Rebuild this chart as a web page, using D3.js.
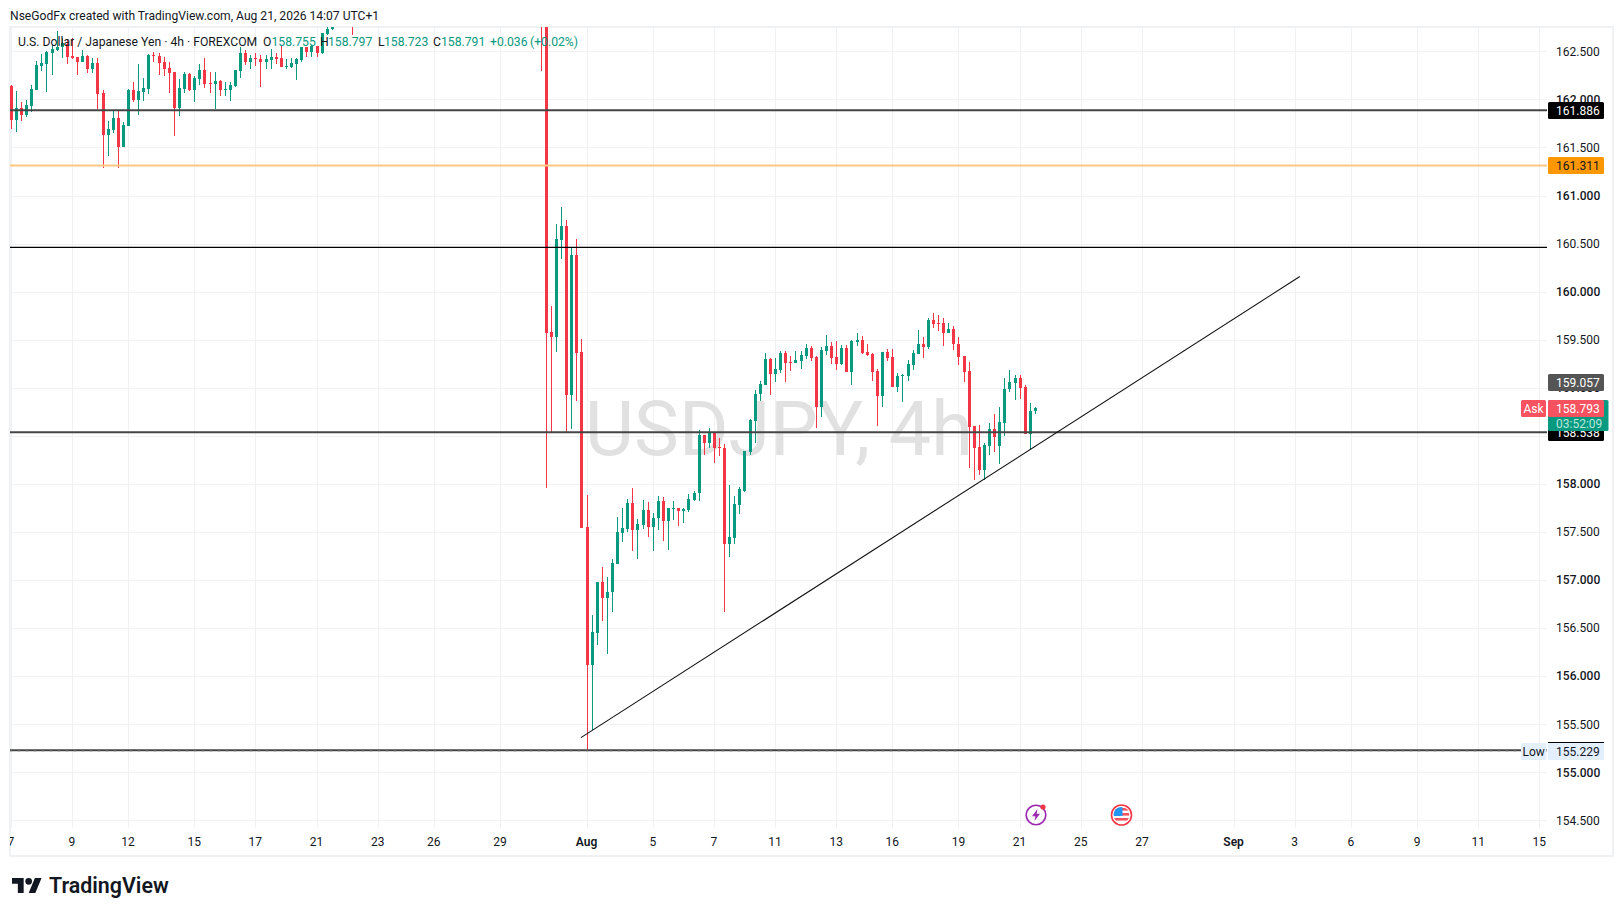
<!DOCTYPE html>
<html><head><meta charset="utf-8">
<script src="https://cdn.jsdelivr.net/npm/d3@7"></script>
<style>html,body{margin:0;padding:0;background:#fff;overflow:hidden}svg{display:block}text{font-family:Roboto,sans-serif}</style>
</head><body><svg id="c" width="1623" height="916"></svg>
<script>
// Visible candle slots (slot number on the time axis); others sit above the visible price range
const slots = [...d3.range(0,64),67,...d3.range(104,202)];
const opens = [162.14,161.79,161.91,161.84,161.93,162.10,162.35,162.37,162.48,162.51,
162.54,162.58,162.45,162.44,162.39,162.45,162.32,162.38,162.07,161.63,
161.68,161.81,161.50,161.72,162.10,161.99,162.08,162.11,162.46,162.45,
162.39,162.33,162.29,161.91,162.11,162.26,162.10,162.21,162.31,162.17,
162.16,162.19,162.10,162.10,162.14,162.30,162.48,162.39,162.43,162.42,
162.39,162.41,162.44,162.43,162.34,162.34,162.37,162.41,162.54,162.49,
162.56,162.48,162.68,162.73,
162.95,
163.90,163.60,
159.58,159.53,160.54,160.68,158.92,160.38,159.37,157.55,156.12,156.45,
156.98,156.81,156.87,157.17,157.49,157.53,157.80,157.52,157.57,157.73,
157.55,157.64,157.82,157.61,157.74,157.75,157.72,157.73,157.83,157.90,
158.51,158.42,158.54,158.38,158.37,157.37,157.44,157.78,157.93,158.33,
158.65,158.93,159.03,159.30,159.14,159.18,159.36,159.27,159.26,159.28,
159.33,159.41,159.32,158.80,159.38,159.43,159.32,159.25,159.41,159.16,
159.48,159.50,159.37,159.35,159.17,158.91,159.37,159.32,159.01,159.12,
159.12,159.24,159.35,159.46,159.42,159.70,159.67,159.67,159.57,159.61,
159.46,159.33,159.17,158.60,158.38,158.14,158.39,158.57,158.39,158.63,
158.99,159.05,159.10,159.01,158.52,158.755];
const highs = [162.15,162.09,161.97,161.99,162.15,162.40,162.47,162.50,162.57,162.71,
162.64,162.63,162.64,162.44,162.51,162.46,162.43,162.43,162.10,161.78,
161.89,161.88,161.76,162.11,162.18,162.37,162.22,162.47,162.49,162.48,
162.44,162.39,162.29,162.21,162.29,162.27,162.24,162.37,162.43,162.29,
162.29,162.20,162.18,162.18,162.31,162.55,162.51,162.46,162.48,162.46,
162.46,162.52,162.48,162.57,162.42,162.43,162.43,162.55,162.55,162.57,
162.56,162.69,162.75,162.80,
163.00,
164.00,163.70,
159.85,160.70,160.88,160.75,160.45,160.55,159.51,157.88,156.64,156.98,
157.13,157.03,157.22,157.66,157.75,157.84,157.96,157.63,157.83,157.81,
157.70,157.87,157.86,157.75,157.82,157.75,157.75,157.89,157.93,158.56,
158.51,158.58,158.54,158.48,158.41,157.99,157.87,157.97,158.34,158.68,
158.98,159.07,159.36,159.31,159.31,159.38,159.38,159.33,159.38,159.38,
159.46,159.43,159.33,159.42,159.55,159.48,159.49,159.44,159.44,159.50,
159.57,159.54,159.46,159.36,159.20,159.37,159.40,159.40,159.15,159.14,
159.29,159.39,159.60,159.53,159.73,159.78,159.76,159.73,159.67,159.64,
159.53,159.33,159.27,158.60,158.61,158.43,158.63,158.73,158.80,159.10,
159.18,159.13,159.13,159.03,158.84,158.797];
const lows = [161.69,161.66,161.77,161.82,161.87,162.10,162.30,162.08,162.25,162.50,
162.43,162.37,162.42,162.25,162.39,162.27,162.27,161.90,161.29,161.41,
161.65,161.29,161.50,161.72,161.97,161.84,161.98,162.06,162.39,162.25,
162.24,162.07,161.62,161.83,162.07,162.09,161.97,162.15,162.12,162.07,
161.90,162.03,162.03,161.98,162.13,162.22,162.36,162.32,162.35,162.13,
162.32,162.32,162.37,162.34,162.32,162.33,162.20,162.39,162.44,162.44,
162.44,162.47,162.67,162.72,
162.67,
162.30,157.96,
158.53,159.37,160.34,158.54,158.57,158.86,157.54,155.23,155.44,156.32,
156.57,156.23,156.67,157.17,157.39,157.50,157.30,157.22,157.53,157.45,
157.30,157.52,157.41,157.31,157.62,157.56,157.59,157.71,157.82,157.82,
158.30,158.37,158.22,158.29,156.67,157.24,157.37,157.69,157.92,158.30,
158.42,158.86,159.03,158.92,159.06,159.15,159.06,159.17,159.26,159.20,
159.30,159.28,158.58,158.70,159.34,159.25,159.18,159.24,159.16,159.03,
159.43,159.35,159.33,159.07,158.60,158.80,159.28,159.01,158.96,158.85,
159.07,159.18,159.35,159.31,159.40,159.62,159.59,159.43,159.57,159.39,
159.24,159.06,158.16,158.04,158.09,158.04,158.30,158.33,158.21,158.50,
158.96,158.87,158.88,158.52,158.35,158.723];
const closes = [161.79,161.91,161.84,161.94,162.11,162.36,162.38,162.49,162.52,162.54,
162.59,162.44,162.43,162.39,162.45,162.32,162.38,162.06,161.63,161.69,
161.81,161.50,161.73,162.10,161.99,162.09,162.12,162.46,162.45,162.38,
162.32,162.27,161.91,162.12,162.26,162.10,162.22,162.31,162.16,162.16,
162.19,162.10,162.11,162.15,162.31,162.48,162.39,162.43,162.42,162.39,
162.42,162.44,162.42,162.34,162.35,162.38,162.42,162.54,162.49,162.56,
162.48,162.69,162.73,162.76,
162.85,
163.60,159.57,
159.53,160.55,160.68,158.92,160.38,159.36,157.54,156.12,156.46,156.98,
156.81,156.88,157.18,157.50,157.54,157.80,157.52,157.58,157.73,157.55,
157.65,157.82,157.61,157.75,157.75,157.72,157.74,157.84,157.90,158.51,
158.42,158.54,158.37,158.37,157.37,157.45,157.79,157.95,158.34,158.66,
158.94,159.04,159.30,159.14,159.19,159.36,159.26,159.26,159.29,159.34,
159.41,159.31,158.80,159.39,159.43,159.31,159.25,159.41,159.16,159.49,
159.50,159.36,159.34,159.16,158.91,159.37,159.31,159.01,159.12,159.13,
159.25,159.36,159.46,159.42,159.70,159.66,159.66,159.57,159.61,159.45,
159.32,159.16,158.59,158.37,158.14,158.40,158.57,158.49,158.64,158.99,
159.06,159.10,159.00,158.52,158.76,158.791];

const priceTicks = [154.5,155,155.5,156,156.5,157,157.5,158,158.5,159,159.5,160,160.5,161,161.5,162,162.5];
const dateSlots  = [0,12,23,36,48,60,72,83,96,113,126,138,150,162,173,186,198,210,222,240,252,263,276,288,300];
const dateLabels = ["7","9","12","15","17","21","23","26","29","Aug","5","7","11","13","16","19","21","25","27","Sep","3","6","9","11","15"];
const boldDates = ["Aug","Sep"];
const trendSlots = [111.8,252.9];
const trendPrices = [155.36,160.157];
const levelPrices = [161.886,161.311,160.46,158.538,155.229];
const levelColors = ["#444444","#ffc880","#000000","#444444","#444444"];
const levelWidths = [2,2,1.2,2,2];

const W=1623,H=916, L=10, R=1547, T=27, B=827.5;
const GREEN="#089981", RED="#f23645", GRID="#f0f1f3", INK="#131722";
const x=d3.scaleLinear().domain([0,201]).range([11.3,1035.4]);
const y=d3.scaleLinear().domain([154.425,162.753]).range([B,T]);
const svg=d3.select("#c");

svg.append("defs").append("clipPath").attr("id","plot").append("rect").attr("x",L).attr("y",T).attr("width",R-L).attr("height",B-T);

svg.append("rect").attr("width",W).attr("height",H).attr("fill","#fff");
svg.append("rect").attr("x",10).attr("y",27).attr("width",1603).attr("height",829).attr("fill","#fff").attr("stroke",GRID).attr("stroke-width",2);

svg.append("text").attr("x",10).attr("y",19.5).attr("font-size",12.1).attr("fill",INK).attr("font-family","Lato").text("NseGodFx created with TradingView.com, Aug 21, 2026 14:07 UTC+1");

// grid
const g=svg.append("g").attr("shape-rendering","crispEdges");
g.selectAll("line.h").data(priceTicks).join("line").attr("class","h").attr("x1",L).attr("x2",R).attr("y1",d=>Math.round(y(d))+.5).attr("y2",d=>Math.round(y(d))+.5).attr("stroke",GRID);
g.selectAll("line.v").data(dateSlots).join("line").attr("class","v").attr("x1",d=>Math.floor(x(d))+.5).attr("x2",d=>Math.floor(x(d))+.5).attr("y1",T).attr("y2",B).attr("stroke",GRID);

// watermark
svg.append("text").attr("x",779).attr("y",455).attr("text-anchor","middle").attr("font-size",75.5).attr("fill","#e1e1e1").attr("font-family","Roboto").text("USDJPY, 4h");

// candles
const plot=svg.append("g").attr("clip-path","url(#plot)");
const rows=slots.map((s,i)=>({s,o:opens[i],h:highs[i],l:lows[i],c:closes[i]}));
const col=d=>d.c>=d.o?GREEN:RED;
const cg=plot.append("g").attr("shape-rendering","crispEdges");
cg.selectAll("rect.w").data(rows).join("rect").attr("class","w").attr("x",d=>Math.floor(x(d.s))).attr("width",1).attr("y",d=>y(d.h)).attr("height",d=>y(d.l)-y(d.h)).attr("fill",col);
cg.selectAll("rect.b").data(rows).join("rect").attr("class","b").attr("x",d=>Math.floor(x(d.s))-1).attr("width",3).attr("y",d=>y(Math.max(d.o,d.c))).attr("height",d=>Math.max(1,y(Math.min(d.o,d.c))-y(Math.max(d.o,d.c)))).attr("fill",col);

// horizontal levels and trend line
plot.selectAll("line.l").data(levelPrices).join("line").attr("class","l").attr("x1",L).attr("x2",R).attr("y1",d=>y(d)).attr("y2",d=>y(d)).attr("stroke",(d,i)=>levelColors[i]).attr("stroke-width",(d,i)=>levelWidths[i]);
plot.append("line").attr("x1",L).attr("x2",R).attr("y1",y(155.229)+1).attr("y2",y(155.229)+1).attr("stroke","#aaa").attr("stroke-width",1).attr("stroke-dasharray","2 6");
plot.append("line").attr("x1",x(trendSlots[0])).attr("y1",y(trendPrices[0])).attr("x2",x(trendSlots[1])).attr("y2",y(trendPrices[1])).attr("stroke","#111").attr("stroke-width",1.1);

// axes
const ya=d3.axisRight(y).tickValues(priceTicks).tickSize(0).tickPadding(9).tickFormat(d3.format(".3f"));
const yg=svg.append("g").attr("transform",`translate(${R},0)`).call(ya);
yg.select(".domain").remove();
yg.selectAll("text").attr("font-family","Roboto").attr("font-size",12).attr("fill",INK).attr("font-weight",d=>Number.isInteger(d)?500:400);
svg.select("defs").append("clipPath").attr("id","xclip2").append("rect").attr("x",L+1).attr("y",0).attr("width",W-L).attr("height",30);
const xa=d3.axisBottom(x).tickValues(dateSlots).tickSize(0).tickPadding(10).tickFormat((d,i)=>dateLabels[i]);
const xg=svg.append("g").attr("transform",`translate(-1,${B})`).attr("clip-path","url(#xclip2)").call(xa);
xg.select(".domain").remove();
xg.selectAll("text").attr("font-family","Roboto").attr("font-size",12).attr("fill",INK).attr("font-weight",(d,i)=>boldDates.includes(dateLabels[i])?600:400);

// legend
const leg=svg.append("g").attr("font-size",12.2).attr("font-family","Roboto");
const lt=(xx,s,c)=>leg.append("text").attr("x",xx).attr("y",46).attr("fill",c).text(s);
lt(18,"U.S. Dollar / Japanese Yen · 4h · FOREXCOM",INK);
lt(263,"O",INK);lt(271.5,"158.755",GREEN);
lt(320,"H",INK);lt(328,"158.797",GREEN);
lt(378,"L",INK);lt(384,"158.723",GREEN);
lt(433,"C",INK);lt(441,"158.791",GREEN);
lt(490,"+0.036",GREEN);lt(530,"(+0.02%)",GREEN);

// price labels
function tag(x0,x1,y0,y1,fill,txt,col,tx,anchor){
  svg.append("rect").attr("x",x0).attr("y",y0).attr("width",x1-x0).attr("height",y1-y0).attr("fill",fill).attr("rx",1.5);
  svg.append("text").attr("x",tx).attr("y",(y0+y1)/2+4.2).attr("fill",col).attr("font-size",12).attr("font-family","Roboto").attr("text-anchor",anchor||"start").text(txt);
}
const lab=p=>Math.round(y(p));
tag(1548,1604,lab(161.886)-8,lab(161.886)+9,"#000",d3.format(".3f")(161.886),"#fff",1556);
tag(1548,1604,lab(161.311)-9,lab(161.311)+8,"#ff9800",d3.format(".3f")(161.311),INK,1556);
tag(1548,1604,374,391,"#555555",d3.format(".3f")(159.057),"#fff",1556);
tag(1548,1604,424,441,"#000",d3.format(".3f")(158.538),"#fff",1556);
tag(1548,1608.5,400,431,GREEN,"","#fff",1556);
svg.append("text").attr("x",1556).attr("y",427.5).attr("fill","#b9e6da").attr("font-size",12).attr("font-family","Roboto").text("03:52:09");
tag(1548,1604,400,417,"#f7525f",d3.format(".3f")(158.793),"#fff",1556);
tag(1521,1546,400,417,"#f7525f","Ask","#fff",1533.5,"middle");
tag(1521,1546.5,743,760,"#e3effd","Low",INK,1533.7,"middle");
tag(1548,1604,743,760,"#e3effd",d3.format(".3f")(155.229),INK,1556);
svg.append("rect").attr("x",1548).attr("y",742).attr("width",56).attr("height",1).attr("fill","#000");

// event icons
const i1=svg.append("g").attr("transform","translate(1036,815)");
i1.append("circle").attr("r",9.8).attr("fill","#fff").attr("stroke","#9c27b0").attr("stroke-width",1.6);
i1.append("path").attr("d","M1.5,-6 L-4,1.2 L-0.6,1.2 L-1.6,6 L4,-1.2 L0.6,-1.2 Z").attr("fill","#9c27b0");
i1.append("circle").attr("cx",7).attr("cy",-8).attr("r",2.6).attr("fill","#f23645");
const i2=svg.append("g").attr("transform","translate(1121.5,815)");
i2.append("clipPath").attr("id","fl").append("circle").attr("r",8);
i2.append("circle").attr("r",10).attr("fill","#fff").attr("stroke","#f23645").attr("stroke-width",1.6);
const fl=i2.append("g").attr("clip-path","url(#fl)");
fl.append("rect").attr("x",-8).attr("y",-8).attr("width",16).attr("height",16).attr("fill","#fff");
[-7,-2,3].forEach(v=>fl.append("rect").attr("x",-8).attr("y",v).attr("width",16).attr("height",2.6).attr("fill","#f7525f"));
fl.append("rect").attr("x",-8).attr("y",-8).attr("width",9).attr("height",9).attr("fill","#2196f3");

// TradingView logo
const logo=svg.append("g").attr("transform","translate(12,874.7) scale(.8333)").attr("fill","#131722");
logo.append("path").attr("d","M14 22H7V11H0V4h14v18zM28 22h-8l7.5-18h8L28 22z");
logo.append("circle").attr("cx",20).attr("cy",8).attr("r",4);
svg.append("text").attr("x",49).attr("y",893).attr("font-family","Inter").attr("font-weight",600).attr("font-size",21.4).attr("fill","#131722").text("TradingView");
</script></body></html>
